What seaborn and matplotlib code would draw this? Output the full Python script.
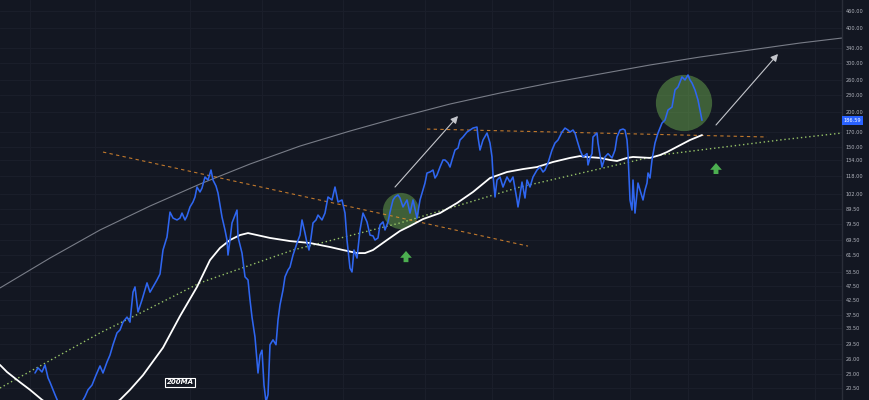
import numpy as np
import pandas as pd
import matplotlib
matplotlib.use("Agg")
import matplotlib.pyplot as plt
import matplotlib.transforms as mtransforms
from matplotlib.ticker import NullLocator
import seaborn as sns

# ---------------- data ----------------
price_t = [35, 38, 42, 45, 48, 50, 53, 55, 58, 62, 70, 78, 82, 85, 88, 92, 96, 100, 103, 107,
           110, 113, 117, 120, 123, 127, 130, 133, 135, 138, 142, 147, 150, 153, 157, 160, 163, 167, 170, 173,
           177, 180, 182, 185, 187, 190, 193, 195, 197, 200, 202, 205, 208, 211, 213, 216, 218, 220, 222, 225,
           227, 228, 230, 232, 235, 237, 238, 240, 242, 245, 248, 250, 252, 255, 258, 260, 262, 264, 266, 268,
           270, 273, 276, 278, 280, 283, 285, 288, 290, 293, 297, 300, 302, 305, 307, 309, 311, 313, 316, 318,
           322, 325, 328, 332, 335, 338, 342, 345, 347, 350, 352, 354, 357, 360, 363, 367, 370, 373, 375, 378,
           380, 383, 385, 388, 390, 393, 395, 398, 400, 403, 407, 410, 413, 417, 420, 423, 425, 427, 430, 433,
           435, 437, 440, 443, 445, 448, 450, 452, 455, 458, 460, 463, 467, 470, 473, 477, 478, 480, 483, 487,
           490, 492, 493, 495, 497, 500, 503, 507, 510, 513, 517, 518, 520, 522, 525, 527, 530, 533, 537, 540,
           543, 545, 548, 552, 555, 558, 562, 565, 568, 570, 573, 575, 577, 580, 583, 587, 588, 590, 592, 593,
           597, 598, 600, 602, 605, 608, 612, 615, 617, 620, 623, 625, 627, 628, 630, 632, 633, 635, 638, 640,
           643, 645, 647, 648, 650, 652, 655, 658, 662, 665, 668, 672, 675, 678, 682, 685, 688, 690, 692, 695,
           698, 700, 702]
price = [23.2, 24.2, 23.4, 24.8, 22.3, 21.5, 20.2, 19.4, 18.3, 17.7, 17.4, 17.7, 18.3, 19.1, 20.2, 21.0, 22.8, 24.6, 23.2, 25.4,
         26.9, 29.3, 32.3, 33.1, 35.3, 36.8, 35.3, 45.2, 47.2, 38.4, 42.4, 48.8, 45.2, 47.2, 50.0, 52.5, 64.0, 71.3, 87.5, 83.3,
         82.0, 83.3, 86.8, 82.0, 84.7, 91.3, 95.1, 99.1, 107.6, 103.3, 106.7, 116.9, 114.0, 123.8, 114.0, 108.5, 102.4, 92.8, 84.0, 75.5,
         69.5, 61.4, 69.5, 80.0, 85.4, 89.0, 71.3, 66.7, 62.4, 51.3, 50.0, 42.4, 36.8, 31.2, 23.2, 26.9, 28.0, 21.0, 18.3, 19.4,
         29.3, 30.5, 29.3, 35.9, 40.7, 46.0, 51.3, 54.3, 55.6, 61.4, 67.8, 72.4, 82.0, 73.6, 67.8, 64.0, 70.7, 80.0, 82.0, 85.4,
         82.0, 86.8, 99.1, 96.7, 107.6, 95.1, 96.7, 86.8, 69.5, 55.1, 53.4, 64.0, 59.9, 75.5, 86.8, 80.7, 72.4, 71.9, 69.5, 70.7,
         78.7, 80.7, 75.5, 80.7, 87.5, 96.7, 99.1, 100.8, 98.3, 91.3, 96.7, 86.8, 96.7, 83.3, 96.7, 105.0, 111.2, 120.8, 121.8, 123.8,
         115.9, 118.8, 126.9, 134.5, 134.5, 131.2, 126.9, 134.5, 146.0, 148.4, 158.6, 162.6, 169.4, 172.2, 175.0, 176.5, 162.6, 146.0, 158.6, 168.0,
         154.7, 137.9, 118.8, 99.1, 114.0, 116.9, 107.6, 116.9, 112.1, 116.9, 96.7, 91.3, 100.8, 112.1, 98.3, 114.0, 107.6, 116.9, 123.8, 126.9,
         121.8, 123.8, 131.2, 146.0, 154.7, 158.6, 169.4, 175.0, 172.2, 169.4, 172.2, 168.0, 158.6, 146.0, 137.9, 141.7, 129.1, 136.8, 141.7, 162.6,
         168.0, 154.7, 140.1, 126.9, 137.9, 141.7, 136.8, 146.0, 162.6, 172.2, 173.6, 172.2, 158.6, 141.7, 96.7, 89.0, 114.0, 86.8, 111.2, 105.0,
         96.7, 105.0, 111.2, 120.8, 115.9, 134.5, 154.7, 168.0, 182.4, 187.0, 203.1, 208.1, 239.6, 245.6, 266.8, 260.2, 271.2, 260.2, 253.8, 239.6,
         220.6, 203.1, 186.59]

ma_t = [0, 7, 20, 30, 42, 50, 60, 80, 100, 115, 120, 130, 143, 163, 180, 197, 210, 220, 230, 240,
        248, 257, 270, 290, 310, 330, 343, 357, 365, 373, 387, 400, 410, 423, 440, 457, 473, 490, 507, 523,
        537, 553, 570, 580, 587, 600, 610, 617, 627, 633, 650, 660, 667, 680, 690, 702]
ma200 = [24.8, 23.4, 21.5, 20.2, 18.6, 17.8, 17.1, 16.4, 17.1, 18.1, 18.6, 20.2, 22.8, 28.6, 37.1, 47.2, 58.9, 65.1, 69.5, 72.4,
         73.6, 72.4, 70.7, 68.9, 67.8, 65.6, 64.0, 62.4, 62.4, 64.0, 69.5, 74.9, 78.0, 82.6, 86.8, 94.3, 103.3, 115.9, 121.8, 124.8,
         126.9, 132.3, 136.8, 138.9, 137.9, 136.8, 134.5, 133.4, 136.8, 137.9, 136.8, 140.1, 143.6, 151.9, 158.6, 165.2]

upper_t = [0, 50, 100, 150, 200, 250, 300, 350, 400, 450, 500, 550, 600, 650, 700, 750, 800, 842]
upper_curve = [46.8, 59.9, 75.5, 92.0, 110.3, 130.1, 150.9, 170.8, 191.7, 213.4, 233.7, 253.8,
               273.4, 294.5, 314.5, 333.2, 353.0, 367.9]

support_t = [0, 100, 140, 200, 293, 400, 520, 660, 780, 842]
support_curve = [20.5, 32.3, 38.0, 48.8, 64.0, 80.0, 107.6, 140.1, 158.6, 168.0]

downtrend_t = [103, 528]
downtrend = [143.6, 66.1]
resistance_t = [427, 767]
resistance = [173.6, 162.6]

gray_arrows = [((395, 107.6), (458, 193.3)), ((716, 179.5), (778, 322.4))]
circle_t = [401, 684]
circle_price = [88.3, 215.2]
circle_size = [680, 1640]
up_arrows = [(406, 57.9, 63.5), (716, 119.8, 131.2)]

ytick_values = [460, 400, 340, 300, 260, 230, 200, 170, 150, 134, 118, 102, 89.5, 79.5,
                69.5, 61.5, 53.5, 47.5, 42.5, 37.5, 33.5, 29.5, 26, 23, 20.5]
vgrid_t = [30, 95, 190, 262, 343, 425, 492, 553, 630, 688, 752, 815]
last_price = 186.59

# ---------------- style ----------------
BG = "#131722"
sns.set_theme(style="dark", rc={"axes.facecolor": BG, "figure.facecolor": BG,
                                "savefig.facecolor": BG})
plt.rcParams["font.family"] = ["DejaVu Sans"]

fig = plt.figure(figsize=(8.7, 4.0), dpi=100)
ax = fig.add_axes([0, 0, 842 / 870, 1])
ax.set_facecolor(BG)
ax.set_yscale("log")
ax.set_xlim(0, 842)
ax.set_ylim(18.57, 503.4)

# grid
ax.set_yticks(ytick_values)
ax.set_yticklabels([f"{v:.2f}" for v in ytick_values])
ax.yaxis.set_minor_locator(NullLocator())
ax.set_xticks(vgrid_t)
ax.grid(True, which="major", color="#1b1f2b", lw=0.7)
ax.tick_params(axis="x", bottom=False, labelbottom=False, length=0)
ax.tick_params(axis="y", left=False, labelleft=False, right=True, labelright=True,
               length=0, pad=2.6, labelsize=3.6, labelcolor="#b2b5be")
for s in ["top", "left", "bottom"]:
    ax.spines[s].set_visible(False)
ax.spines["right"].set_color("#2a2e39")
ax.spines["right"].set_linewidth(1.0)

# highlight circles
ax.scatter(circle_t, circle_price, s=circle_size, color="#6aa84f", alpha=0.5,
           edgecolor="none", zorder=1)

# guide curves
ax.plot(upper_t, upper_curve, color="#8a8e99", lw=0.8, alpha=0.85, zorder=2)
ax.plot(support_t, support_curve, color="#a5d66f", lw=1.0, ls=(0, (1, 2)), alpha=0.9, zorder=2)
ax.plot(downtrend_t, downtrend, color="#e08a2e", lw=0.8, ls=(0, (3, 3)), alpha=0.85, zorder=2)
ax.plot(resistance_t, resistance, color="#e08a2e", lw=0.8, ls=(0, (3, 3)), alpha=0.85, zorder=2)

# price and moving average
df_price = pd.DataFrame({"t": price_t, "price": price})
df_ma = pd.DataFrame({"t": ma_t, "ma": ma200})
sns.lineplot(data=df_price, x="t", y="price", ax=ax, color="#2f66f0", lw=1.15,
             estimator=None, sort=False, zorder=4)
sns.lineplot(data=df_ma, x="t", y="ma", ax=ax, color="#ffffff", lw=1.3,
             estimator=None, sort=False, zorder=3)
ax.set_xlabel("")
ax.set_ylabel("")
ax.set_xlim(0, 842)
ax.set_ylim(18.57, 503.4)

# gray arrows
for (x0, y0), (x1, y1) in gray_arrows:
    ax.annotate("", xy=(x1, y1), xytext=(x0, y0),
                arrowprops=dict(arrowstyle="-|>,head_length=0.35,head_width=0.18",
                                color="#c4c6cc", lw=0.8, shrinkA=0, shrinkB=0),
                zorder=5)

# green up arrows
for x, y0, y1 in up_arrows:
    ax.annotate("", xy=(x, y1), xytext=(x, y0),
                arrowprops=dict(arrowstyle="simple,head_length=0.7,head_width=1.2,tail_width=0.5",
                                color="#4caf50", lw=0, shrinkA=0, shrinkB=0, mutation_scale=7),
                zorder=5)

# 200MA label
ax.text(180, 21.5, "200MA", ha="center", va="center", fontsize=5, fontweight="bold",
        fontstyle="italic", color="white", zorder=6,
        bbox=dict(boxstyle="square,pad=0.25", fc=BG, ec="white", lw=0.8))

# last price label on axis
trans = mtransforms.blended_transform_factory(ax.transAxes, ax.transData)
ax.text(1.0015, last_price, f"{last_price:.2f}", transform=trans, ha="left", va="center",
        fontsize=3.6, color="white", clip_on=False, zorder=7,
        bbox=dict(boxstyle="square,pad=0.35", fc="#2962ff", ec="none"))

fig.savefig("out.png", dpi=100, facecolor=BG)
